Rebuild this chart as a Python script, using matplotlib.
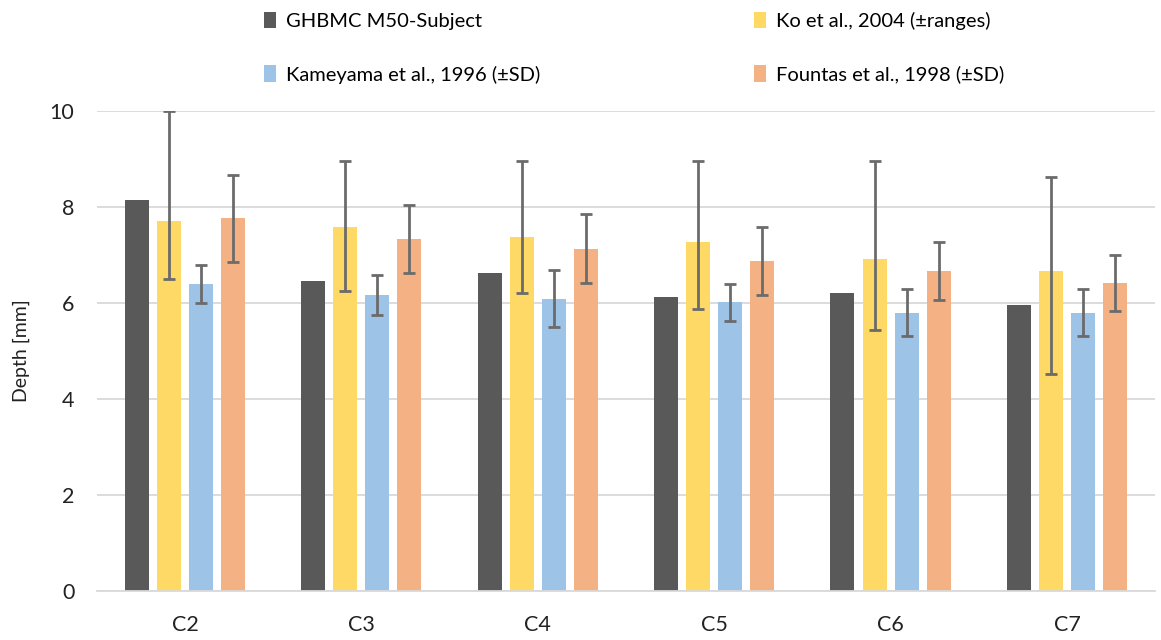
import numpy as np
import matplotlib.pyplot as plt

plt.rcParams['font.family'] = ['Lato', 'DejaVu Sans']

levels = ['C2', 'C3', 'C4', 'C5', 'C6', 'C7']

# GHBMC model depth
ghbmc = [8.15, 6.46, 6.63, 6.13, 6.21, 5.96]

# Ko et al. mean and min/max range
ko = [7.71, 7.59, 7.38, 7.26, 6.92, 6.67]
ko_min = [6.49, 6.24, 6.20, 5.87, 5.43, 4.51]
ko_max = [10.0, 8.96, 8.96, 8.96, 8.96, 8.63]

# Kameyama et al. mean and SD
kam = [6.39, 6.17, 6.09, 6.01, 5.80, 5.80]
kam_sd = [0.40, 0.42, 0.60, 0.39, 0.49, 0.49]

# Fountas et al. mean and SD
fon = [7.76, 7.34, 7.13, 6.88, 6.67, 6.42]
fon_sd = [0.90, 0.71, 0.72, 0.71, 0.61, 0.58]

c_ghbmc = '#595959'
c_ko = '#FFD966'
c_kam = '#9DC3E6'
c_fon = '#F4B183'
c_err = '#6b6b6b'

fig = plt.figure(figsize=(11.61, 6.4), dpi=100)
ax = fig.add_axes([0.0833, 0.0766, 0.9117, 0.75])

x = np.arange(len(levels))
slot = 32 / 176
w = 24 / 176
ekw = dict(ecolor=c_err, elinewidth=2, capsize=4, capthick=2)

ko_err = [np.array(ko) - np.array(ko_min), np.array(ko_max) - np.array(ko)]

ax.bar(x - 1.5 * slot, ghbmc, w, color=c_ghbmc, label='GHBMC M50-Subject', zorder=2)
ax.bar(x - 0.5 * slot, ko, w, color=c_ko, yerr=ko_err, error_kw=ekw,
       label='Ko et al., 2004 (±ranges)', zorder=2)
ax.bar(x + 0.5 * slot, kam, w, color=c_kam, yerr=kam_sd, error_kw=ekw,
       label='Kameyama et al., 1996 (±SD)', zorder=2)
ax.bar(x + 1.5 * slot, fon, w, color=c_fon, yerr=fon_sd, error_kw=ekw,
       label='Fountas et al., 1998 (±SD)', zorder=2)

ax.set_xlim(-0.5, len(levels) - 0.5)
ax.set_ylim(0, 10)
ax.set_yticks([0, 2, 4, 6, 8, 10])
ax.set_xticks(x)
ax.set_xticklabels(levels)
ax.yaxis.grid(True, color='#d9d9d9', linewidth=1.3, zorder=0)
ax.set_axisbelow(True)
for s in ['top', 'right', 'left']:
    ax.spines[s].set_visible(False)
ax.spines['bottom'].set_color('#d9d9d9')
ax.spines['bottom'].set_linewidth(1.3)
ax.tick_params(length=0, labelsize=15.5, colors='#222222')
ax.tick_params(axis='x', pad=17)
ax.tick_params(axis='y', pad=16)
ax.set_ylabel('Depth [mm]', fontsize=14, color='#222222', labelpad=14)

h, l = ax.get_legend_handles_labels()
order = [0, 2, 1, 3]
fig.legend([h[i] for i in order], [l[i] for i in order], ncol=2,
           loc='upper left', bbox_to_anchor=(0.212, 1.01), frameon=False,
           fontsize=14.5, handlelength=0.6, handleheight=0.9, handletextpad=0.5,
           columnspacing=10.6, labelspacing=1.75)

fig.savefig('out.png', dpi=100)
